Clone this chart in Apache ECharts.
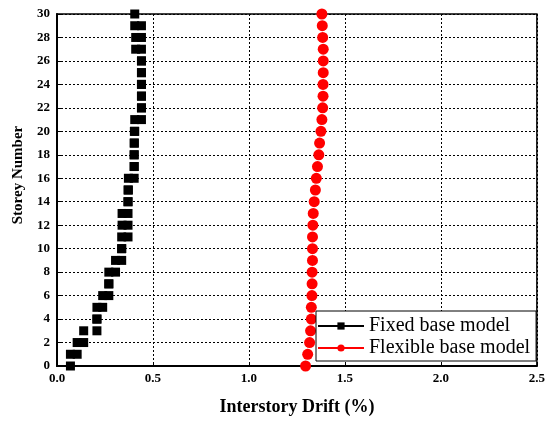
<!DOCTYPE html>
<html>
<head>
<meta charset="utf-8">
<script src="https://cdn.jsdelivr.net/npm/echarts@6/dist/echarts.min.js"></script>
<style>
  html, body { margin: 0; padding: 0; background: #fff; }
  #chart { width: 548px; height: 421px; }
</style>
</head>
<body>
<div id="chart"></div>
<script>
// storey drift (%) of the fixed base model, storey 1..30
const fixedDrift = [
  0.07, 0.105, 0.139, 0.208, 0.208, 0.238, 0.27, 0.27, 0.305, 0.337,
  0.337, 0.37, 0.339, 0.37, 0.37, 0.372, 0.402, 0.402, 0.402, 0.403,
  0.405, 0.44, 0.44, 0.44, 0.44, 0.44, 0.44, 0.41, 0.44, 0.405
]
// drift (%) of the flexible base model at floor level 0..30
const flexibleDrift = [
  1.295, 1.306, 1.316, 1.321, 1.325, 1.325, 1.328, 1.329, 1.329, 1.331,
  1.331, 1.331, 1.333, 1.335, 1.34, 1.346, 1.351, 1.357, 1.364, 1.368,
  1.375, 1.38, 1.384, 1.386, 1.386, 1.387, 1.387, 1.387, 1.384, 1.382,
  1.38
]
const xTicks = [0, 0.5, 1.0, 1.5, 2.0, 2.5]

// each storey's drift is drawn at its bottom and top floor level
const fixedPoints = []
fixedDrift.forEach((d, i) => {
  fixedPoints.push([d, i])
  fixedPoints.push([d, i + 1])
})
const flexiblePoints = flexibleDrift.map((d, i) => [d, i])

const font = 'Liberation Serif, Times New Roman, serif'

const chart = echarts.init(document.getElementById('chart'))
chart.setOption({
  animation: false,
  grid: {
    left: 57,
    right: 11,
    top: 14,
    bottom: 55,
    show: true,
    borderColor: '#000',
    borderWidth: 1.5
  },
  legend: {
    orient: 'vertical',
    left: 316,
    top: 311,
    itemWidth: 46,
    itemHeight: 9,
    itemGap: 2,
    padding: [5, 6, 3, 1],
    backgroundColor: '#fff',
    borderColor: '#000',
    borderWidth: 1,
    borderRadius: 0,
    lineStyle: { opacity: 1, width: 2 },
    textStyle: { fontFamily: font, fontSize: 20, lineHeight: 20, color: '#000' },
    data: ['Fixed base model', 'Flexible base model']
  },
  xAxis: {
    type: 'value',
    min: xTicks[0],
    max: xTicks[xTicks.length - 1],
    interval: 0.5,
    name: 'Interstory Drift (%)',
    nameLocation: 'middle',
    nameGap: 32,
    nameTextStyle: { fontFamily: font, fontSize: 18, fontWeight: 'bold', color: '#000' },
    axisLine: { lineStyle: { color: '#000', width: 2 } },
    axisTick: { inside: true, length: 4, lineStyle: { color: '#000' } },
    axisLabel: {
      fontFamily: font, fontSize: 13, fontWeight: 'bold', color: '#000', margin: 6,
      formatter: v => v.toFixed(1)
    },
    splitLine: { lineStyle: { color: '#000', type: [2, 2], width: 1 } }
  },
  yAxis: {
    type: 'value',
    min: 0,
    max: 30,
    interval: 2,
    name: 'Storey Number',
    nameLocation: 'middle',
    nameGap: 31,
    nameTextStyle: {
      fontFamily: font, fontSize: 15, fontWeight: 'bold', color: '#000',
      padding: [0, 0, 0, 30]
    },
    axisLine: { lineStyle: { color: '#000', width: 2 } },
    axisTick: { inside: true, length: 4, lineStyle: { color: '#000' } },
    axisLabel: { fontFamily: font, fontSize: 13, fontWeight: 'bold', color: '#000', margin: 7 },
    splitLine: { lineStyle: { color: '#000', type: [2, 2], width: 1 } }
  },
  series: [
    {
      name: 'Fixed base model',
      type: 'line',
      data: fixedPoints,
      symbol: 'rect',
      symbolSize: 9,
      color: '#000',
      itemStyle: { color: '#000' },
      lineStyle: { color: '#000', width: 2, opacity: 0 }
    },
    {
      name: 'Flexible base model',
      type: 'line',
      data: flexiblePoints,
      symbol: 'circle',
      symbolSize: 11,
      color: '#ff0000',
      itemStyle: { color: '#ff0000' },
      lineStyle: { color: '#ff0000', width: 2, opacity: 0 }
    }
  ]
})
</script>
</body>
</html>
